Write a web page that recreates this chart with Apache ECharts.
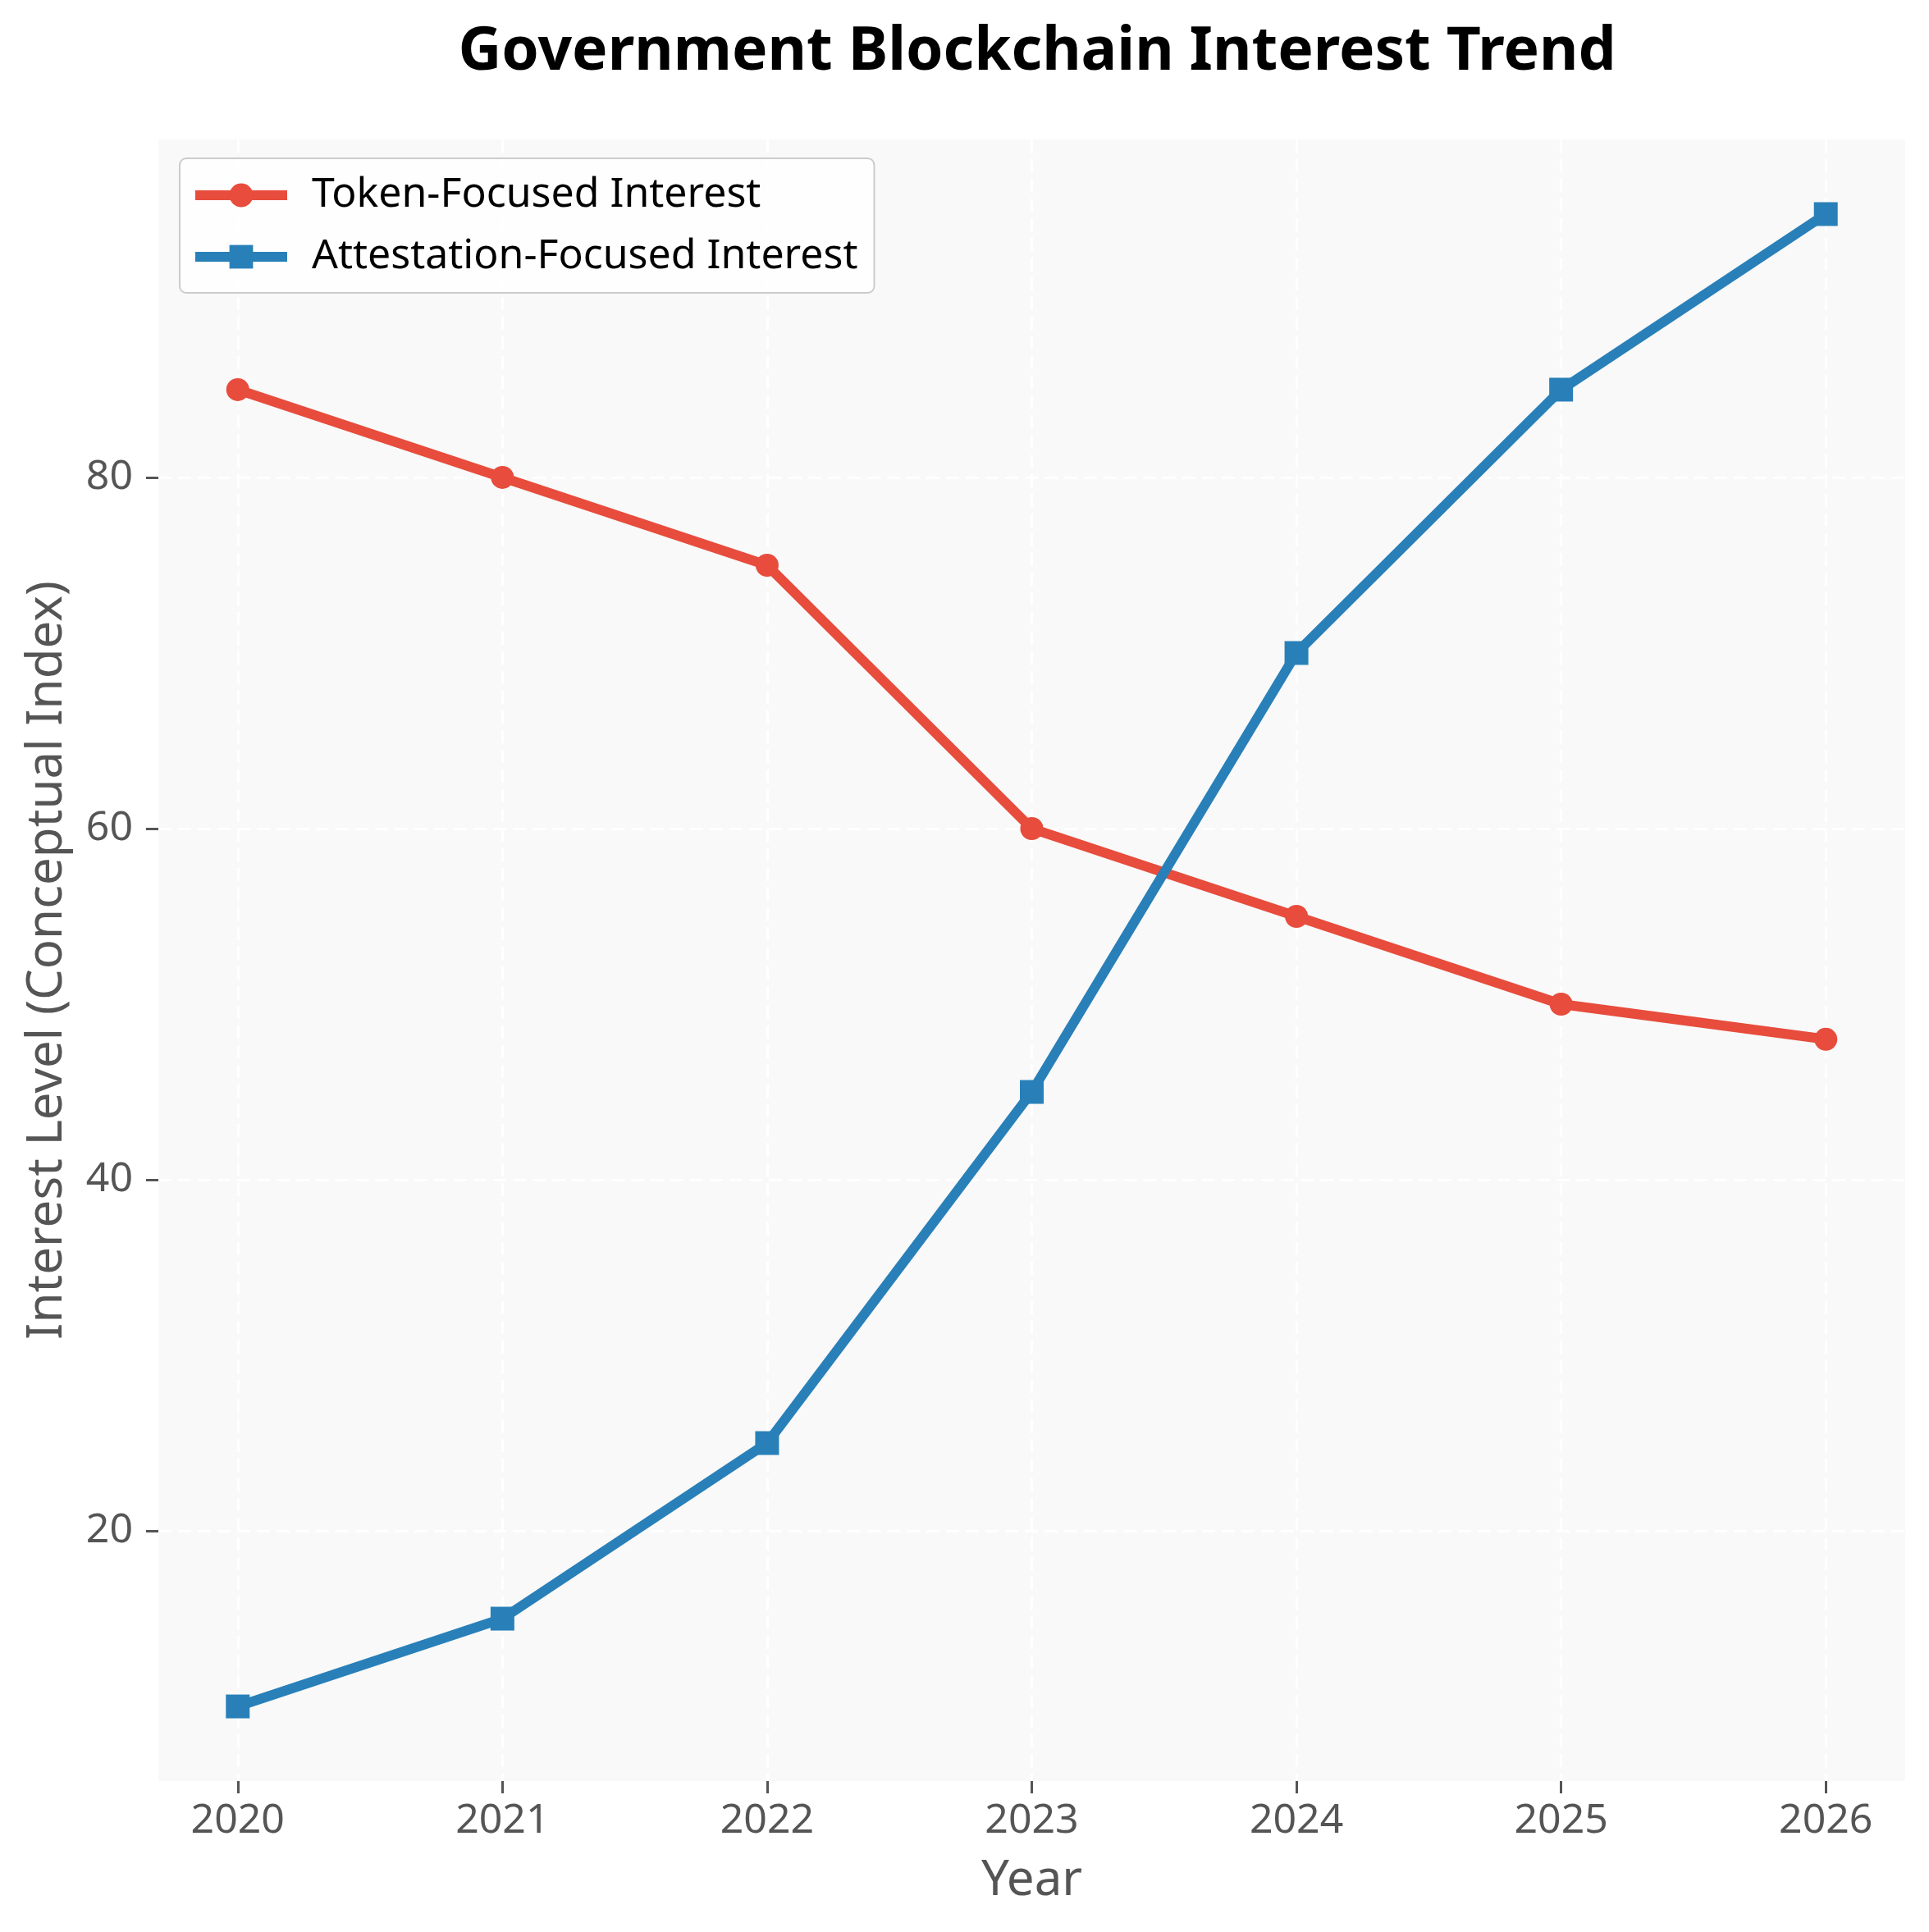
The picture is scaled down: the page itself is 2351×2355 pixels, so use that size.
<!DOCTYPE html>
<html>
<head>
<meta charset="utf-8">
<script src="https://cdn.jsdelivr.net/npm/echarts@6/dist/echarts.min.js"></script>
<style>
html,body{margin:0;padding:0;background:#fff;}
#chart{width:2351px;height:2355px;}
</style>
</head>
<body>
<div id="chart"></div>
<script>
const years = [2020, 2021, 2022, 2023, 2024, 2025, 2026];
const tokenFocused = [85, 80, 75, 60, 55, 50, 48];
const attestationFocused = [10, 15, 25, 45, 70, 85, 95];
const yTicks = [20, 40, 60, 80];
const seriesNames = ['Token-Focused Interest', 'Attestation-Focused Interest'];

const FONT = 'Noto Sans';
const chart = echarts.init(document.getElementById('chart'));
const gridLine = { show: true, lineStyle: { color: '#ffffff', width: 3, type: [16, 8] } };
chart.setOption({
  animation: false,
  backgroundColor: '#ffffff',
  title: {
    text: 'Government Blockchain Interest Trend',
    left: 1259, top: 23, textAlign: 'center',
    textStyle: { fontFamily: FONT, fontWeight: 'bold', fontSize: 73, color: '#000' }
  },
  legend: {
    orient: 'vertical', left: 219, top: 193,
    padding: [20, 20, 19, 13],
    itemWidth: 112, itemHeight: 36, itemGap: 25,
    backgroundColor: 'rgba(255,255,255,0.8)', borderColor: '#cccccc', borderWidth: 2, borderRadius: 8,
    textStyle: { fontFamily: FONT, fontSize: 50, color: '#000', lineHeight: 50, padding: [0, 0, 0, 25] },
    lineStyle: { width: 12 },
    data: seriesNames
  },
  grid: { left: 193, right: 29, top: 170, bottom: 184, show: true, backgroundColor: '#f9f9f9', borderWidth: 0 },
  xAxis: {
    type: 'value', min: 2019.7, max: 2026.3,
    name: 'Year', nameLocation: 'middle', nameGap: 92,
    nameTextStyle: { fontFamily: FONT, fontSize: 60, color: '#555555' },
    axisLine: { show: false },
    axisTick: { show: true, length: 15, lineStyle: { color: '#555555', width: 3 }, customValues: years },
    axisLabel: { fontFamily: FONT, fontSize: 50, color: '#555555', margin: 24, customValues: years, formatter: v => String(v) },
    splitLine: gridLine
  },
  yAxis: {
    type: 'value', min: 5.75, max: 99.25,
    name: 'Interest Level (Conceptual Index)', nameLocation: 'middle', nameGap: 105,
    nameTextStyle: { fontFamily: FONT, fontSize: 60, color: '#555555' },
    axisLine: { show: false },
    axisTick: { show: true, length: 15, lineStyle: { color: '#555555', width: 3 }, customValues: yTicks },
    axisLabel: { fontFamily: FONT, fontSize: 50, color: '#555555', margin: 31, customValues: yTicks },
    splitLine: gridLine
  },
  series: [
    {
      name: seriesNames[0], type: 'line',
      data: years.map((y, i) => [y, tokenFocused[i]]),
      symbol: 'circle', symbolSize: 28,
      lineStyle: { color: '#e74c3c', width: 12 },
      itemStyle: { color: '#e74c3c' }
    },
    {
      name: seriesNames[1], type: 'line',
      data: years.map((y, i) => [y, attestationFocused[i]]),
      symbol: 'rect', symbolSize: 29,
      lineStyle: { color: '#2980b9', width: 12 },
      itemStyle: { color: '#2980b9' }
    }
  ]
});
</script>
</body>
</html>
